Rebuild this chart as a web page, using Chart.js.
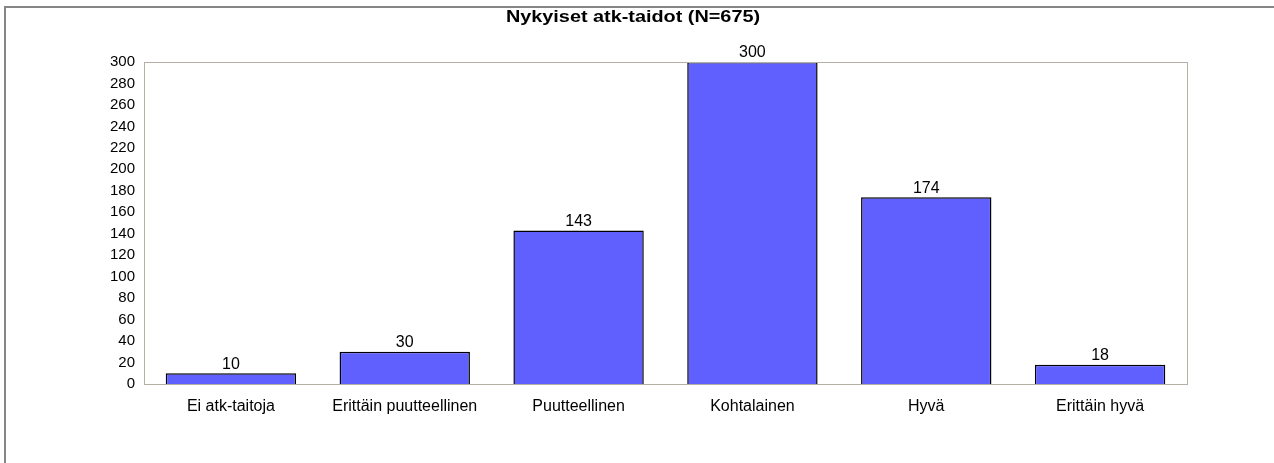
<!DOCTYPE html>
<html lang="fi">
<head>
    <meta charset="UTF-8">
    <title>Nykyiset atk-taidot</title>
    <script src="https://cdn.jsdelivr.net/npm/chart.js@4.4.0/dist/chart.umd.min.js"></script>
    <style>
        html, body { margin: 0; padding: 0; background: #fff; }
        #chart { display: block; }
    </style>
</head>
<body>
    <canvas id="chart" width="1274" height="463"></canvas>
    <script>
        // Data
        const chartTitle = "Nykyiset atk-taidot (N=675)";
        const categories = ["Ei atk-taitoja", "Erittäin puutteellinen", "Puutteellinen", "Kohtalainen", "Hyvä", "Erittäin hyvä"];
        const counts = [10, 30, 143, 300, 174, 18];
        const yMax = 300;
        const yStep = 20;

        const fontFamily = "Arial, 'Liberation Sans', sans-serif";

        // frame, plot border, title and value labels
        const decorations = {
            id: "decorations",
            beforeDraw(chart) {
                const ctx = chart.ctx;
                ctx.save();
                ctx.strokeStyle = "#868686";
                ctx.lineWidth = 2;
                ctx.beginPath();
                ctx.moveTo(5, 463);
                ctx.lineTo(5, 7);
                ctx.lineTo(1274, 7);
                ctx.stroke();
                ctx.restore();
            },
            afterDatasetsDraw(chart) {
                const ctx = chart.ctx;
                const a = chart.chartArea;
                ctx.save();
                ctx.strokeStyle = "#b4b0a4";
                ctx.lineWidth = 1;
                ctx.strokeRect(Math.round(a.left) + 0.5, Math.round(a.top) + 0.5,
                    Math.round(a.right - a.left), Math.round(a.bottom - a.top));

                ctx.fillStyle = "#000";
                ctx.font = "16px " + fontFamily;
                ctx.textAlign = "center";
                ctx.textBaseline = "bottom";
                const meta = chart.getDatasetMeta(0);
                meta.data.forEach((bar, i) => {
                    ctx.fillText(String(counts[i]), bar.x, bar.y - 1);
                });

                // title is a bit wider in the original, stretch it sideways
                ctx.translate(633, 18);
                ctx.scale(1.24, 1);
                ctx.textBaseline = "middle";
                ctx.font = "bold 16px " + fontFamily;
                ctx.fillText(chartTitle, 0, 0);
                ctx.restore();
            }
        };

        const ctx = document.getElementById("chart").getContext("2d");
        const chart = new Chart(ctx, {
            type: "bar",
            data: {
                labels: categories,
                datasets: [{
                    data: counts,
                    backgroundColor: "#6060ff",
                    borderColor: "#000000",
                    borderWidth: 1.5,
                    categoryPercentage: 0.75,
                    barPercentage: 1.0
                }]
            },
            options: {
                responsive: false,
                animation: false,
                layout: {
                    padding: { left: 104, right: 87, top: 62, bottom: 49 }
                },
                plugins: {
                    legend: { display: false },
                    title: { display: false },
                    tooltip: { enabled: false }
                },
                scales: {
                    x: {
                        grid: { display: false, drawTicks: false },
                        border: { display: false },
                        ticks: {
                            color: "#000",
                            padding: 13,
                            maxRotation: 0,
                            autoSkip: false,
                            font: { family: fontFamily, size: 16 }
                        },
                        afterFit(scale) { scale.height = 30; }
                    },
                    y: {
                        min: 0,
                        max: yMax,
                        grid: { display: false, drawTicks: false },
                        border: { display: false },
                        ticks: {
                            stepSize: yStep,
                            autoSkip: false,
                            color: "#000",
                            padding: 9,
                            font: { family: fontFamily, size: 15 }
                        },
                        afterFit(scale) { scale.width = 40; }
                    }
                }
            },
            plugins: [decorations]
        });
    </script>
</body>
</html>
